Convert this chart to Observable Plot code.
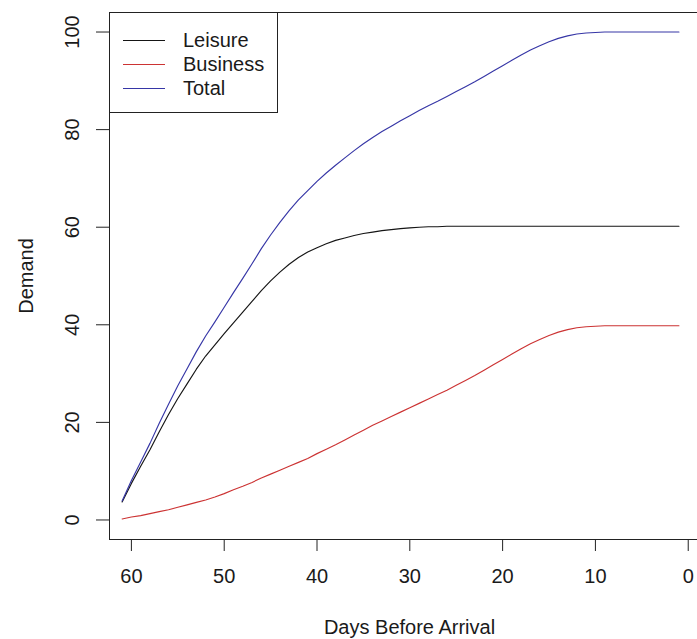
<!DOCTYPE html>
<html>
<head>
<meta charset="utf-8">
<script src="https://cdn.jsdelivr.net/npm/d3@7"></script>
<script src="https://cdn.jsdelivr.net/npm/@observablehq/plot@0.6"></script>
<style>
  html, body { margin: 0; padding: 0; background: #fff; overflow: hidden; }
  #wrap { position: relative; width: 697px; height: 639px; }
  #legend {
    position: absolute; left: 109px; top: 12px; width: 169px; height: 101px;
    box-sizing: border-box; border: 1px solid #222; background: #fff;
    font-family: "Liberation Sans", Arial, sans-serif; font-size: 20px; color: #1a1a1a;
  }
  .row { position: absolute; left: 0; width: 100%; height: 24px; }
  .swatch { position: absolute; left: 13px; width: 42px; top: 12px; height: 1.2px; }
  .lab { position: absolute; left: 73px; top: 0; line-height: 24px; white-space: nowrap; }
</style>
</head>
<body>
<div id="wrap"></div>
<script>
const days = [61,60,59,58,57,56,55,54,53,52,51,50,49,48,47,46,45,44,43,42,41,40,39,38,37,36,35,34,33,32,31,30,29,28,27,26,25,24,23,22,21,20,19,18,17,16,15,14,13,12,11,10,9,8,7,6,5,4,3,2,1];

const leisure = [3.7,7.5,11.0,14.4,18.1,21.6,24.9,27.9,30.9,33.6,35.9,38.2,40.4,42.6,44.8,47.0,49.0,50.8,52.4,53.8,54.9,55.8,56.6,57.3,57.8,58.3,58.7,59.0,59.3,59.5,59.7,59.85,60.0,60.1,60.1,60.2,
  60.2,60.2,60.2,60.2,60.2,60.2,60.2,60.2,60.2,60.2,60.2,60.2,60.2,60.2,60.2,60.2,60.2,60.2,60.2,60.2,60.2,60.2,60.2,60.2,60.2];

const business = [0.2,0.6,0.9,1.3,1.7,2.1,2.6,3.1,3.6,4.1,4.7,5.4,6.2,6.9,7.7,8.6,9.4,10.2,11.0,11.8,12.6,13.6,14.5,15.4,16.4,17.4,18.4,19.4,20.3,21.2,22.1,23.0,23.9,24.8,25.7,26.6,27.6,28.6,29.6,30.7,31.8,32.9,34.0,35.1,36.1,37.0,37.8,38.5,39.0,39.4,39.6,39.7,
  39.8,39.8,39.8,39.8,39.8,39.8,39.8,39.8,39.8];

const total = [3.9,8.1,11.9,15.7,19.8,23.7,27.5,31.0,34.5,37.7,40.6,43.6,46.6,49.5,52.5,55.6,58.4,61.0,63.4,65.6,67.5,69.4,71.1,72.7,74.2,75.7,77.1,78.4,79.6,80.7,81.8,82.85,83.9,84.9,85.8,86.8,87.8,88.8,89.8,90.9,92.0,93.1,94.2,95.3,96.3,97.2,98.0,98.7,99.2,99.6,99.8,99.9,
  100,100,100,100,100,100,100,100,100];

const seriesNames = ["Leisure", "Business", "Total"];
const seriesColors = ["#151515", "#cc3333", "#3636a6"];
const xTicks = [60, 50, 40, 30, 20, 10, 0];
const yTicks = [0, 20, 40, 60, 80, 100];
const xTitle = "Days Before Arrival";
const yTitle = "Demand";

const seriesValues = [leisure, business, total];
const rows = [];
seriesNames.forEach((name, s) => {
  days.forEach((d, i) => rows.push({day: d, value: seriesValues[s][i], series: name}));
});

const chart = Plot.plot({
  width: 697,
  height: 639,
  marginLeft: 109,
  marginRight: 0,
  marginTop: 12,
  marginBottom: 100,
  x: {domain: [62.36, -1.0], axis: null},
  y: {domain: [-4, 104], axis: null},
  color: {domain: seriesNames, range: seriesColors},
  style: {fontFamily: "Liberation Sans, Arial, sans-serif", fontSize: "20px", color: "#1a1a1a", background: "white"},
  marks: [
    Plot.lineY(rows, {x: "day", y: "value", z: "series", stroke: "series", strokeWidth: 1.15}),
    Plot.frame({stroke: "#222"}),
    Plot.axisX({ticks: xTicks, tickSize: 12, tickFormat: () => "", label: null, stroke: "#222"}),
    Plot.axisY({ticks: yTicks, tickSize: 13, tickFormat: () => "", label: null, stroke: "#222"}),
    Plot.text(xTicks, {x: d => d, text: d => String(d), frameAnchor: "bottom", dy: 37, textAnchor: "middle", lineAnchor: "middle", fill: "#1a1a1a"}),
    Plot.text(yTicks, {y: d => d, text: d => String(d), frameAnchor: "left", dx: -37, rotate: -90, textAnchor: "middle", lineAnchor: "middle", fill: "#1a1a1a"}),
    Plot.text([xTitle], {text: d => d, frameAnchor: "bottom", dx: 6, dy: 88, textAnchor: "middle", lineAnchor: "middle", fill: "#1a1a1a"}),
    Plot.text([yTitle], {text: d => d, frameAnchor: "left", dx: -83, rotate: -90, textAnchor: "middle", lineAnchor: "middle", fill: "#1a1a1a"})
  ]
});

const wrap = document.getElementById("wrap");
wrap.appendChild(chart);

const legend = document.createElement("div");
legend.id = "legend";
seriesNames.forEach((name, i) => {
  const row = document.createElement("div");
  row.className = "row";
  row.style.top = (15 + i * 24) + "px";
  const sw = document.createElement("div");
  sw.className = "swatch";
  sw.style.background = seriesColors[i];
  const lab = document.createElement("div");
  lab.className = "lab";
  lab.textContent = name;
  row.appendChild(sw);
  row.appendChild(lab);
  legend.appendChild(row);
});
wrap.appendChild(legend);
</script>
</body>
</html>
